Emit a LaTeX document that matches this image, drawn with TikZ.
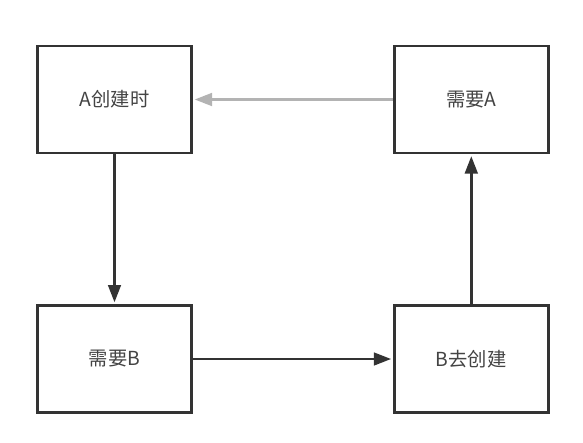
\documentclass[tikz,border=0pt]{standalone}
\usepackage{fontspec}
\newfontfamily\cjk{Noto Sans CJK SC}
\usetikzlibrary{arrows.meta}
\definecolor{boxline}{HTML}{333333}
\definecolor{boxtext}{HTML}{444444}
\definecolor{lightarrow}{HTML}{B3B3B3}

\begin{document}
\begin{tikzpicture}[x=0.03cm,y=-0.03cm,
 box/.style={draw=boxline,line width=2.4pt,fill=white,minimum width=4.62cm,minimum height=3.21cm,inner sep=0pt,text=boxtext,font=\cjk\fontsize{16.5}{19}\selectfont},
 a/.style={-{Triangle[length=5.2mm,width=3.8mm]},line width=2.2pt,boxline,shorten >=1.5pt},
 ga/.style={-{Triangle[length=5.2mm,width=3.8mm]},line width=2.2pt,lightarrow,shorten >=1.5pt}]
\useasboundingbox[fill=white] (0,0) rectangle (583,442);

\node[box] (acreate) at (114.5,99.5) {A创建时};
\node[box] (needA) at (471.3,99.5) {需要A};
\node[box] (needB) at (114.5,359) {需要B};
\node[box] (bcreate) at (471.3,359) {B去创建};

\draw[ga] (needA) -- (acreate);
\draw[a] (acreate) -- (needB);
\draw[a] (needB) -- (bcreate);
\draw[a] (bcreate) -- (needA);
\end{tikzpicture}
\end{document}
